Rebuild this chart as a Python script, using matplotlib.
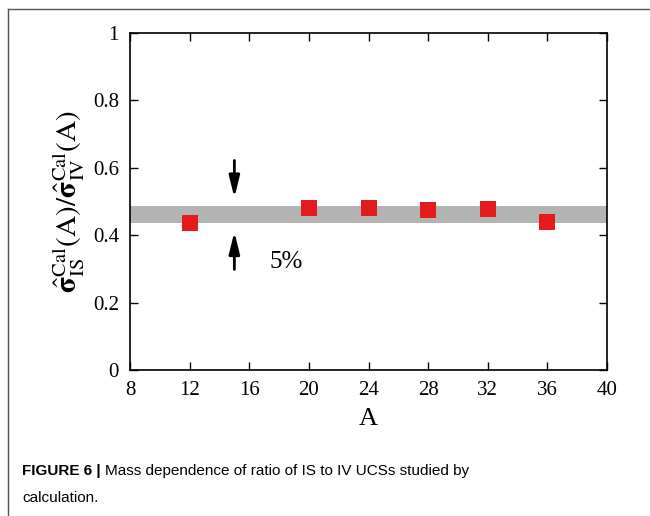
import numpy as np
import matplotlib
matplotlib.use("Agg")
from matplotlib import pyplot as plt
from matplotlib.lines import Line2D

plt.rcParams['font.family'] = ['Liberation Serif', 'DejaVu Serif']
plt.rcParams['mathtext.fontset'] = 'stix'

# mass number and calculated IS/IV ratio
mass = [12, 20, 24, 28, 32, 36]
ratio = [0.435, 0.480, 0.480, 0.474, 0.477, 0.438]
band_lo, band_hi = 0.437, 0.487

fig = plt.figure(figsize=(6.5, 5.16), dpi=100)
ax = fig.add_axes([0.2, 0.283, 0.734, 0.653])

ax.axhspan(band_lo, band_hi, color='#b3b3b3', lw=0, zorder=1)
ax.plot(mass, ratio, 's', color='#e31b1b', ms=12, mew=0, zorder=3)

# arrows marking the band width
head = '-|>,head_length=1.3,head_width=0.32'
ax.annotate('', xy=(15, 0.503), xytext=(15, 0.63),
            arrowprops=dict(arrowstyle=head, color='black', lw=2))
ax.annotate('', xy=(15, 0.418), xytext=(15, 0.29),
            arrowprops=dict(arrowstyle=head, color='black', lw=2))
ax.text(18.5, 0.32, '5%', fontsize=18, ha='center', va='center')

ax.set_xlim(8, 40)
ax.set_ylim(0, 1)
ax.set_xticks(np.arange(8, 41, 4))
ax.set_yticks([0, 0.2, 0.4, 0.6, 0.8, 1])
ax.set_yticklabels(['0', '0.2', '0.4', '0.6', '0.8', '1'])
ax.tick_params(direction='in', top=True, right=True, length=6, width=1, labelsize=15, pad=8)
for s in ax.spines.values():
    s.set_linewidth(1.2)

ax.set_xlabel('A', fontsize=19, labelpad=6)
ax.set_ylabel(r'$\hat{\mathbf{\sigma}}^{\rm Cal}_{\rm IS}\rm(A)/\hat{\mathbf{\sigma}}^{\rm Cal}_{\rm IV}(A)$',
              fontsize=21, labelpad=4)

# outer panel frame
fig.add_artist(Line2D([0.013, 1.0], [0.983, 0.983], color='#555555', lw=1))
fig.add_artist(Line2D([0.013, 0.013], [0.0, 0.983], color='#555555', lw=1))

# caption: bold label followed by plain text
cap_font = dict(fontsize=11, family='Liberation Sans')
t1 = fig.text(0.034, 0.08, 'FIGURE 6 |', fontweight='bold', **cap_font)
fig.canvas.draw()
bb = t1.get_window_extent().transformed(fig.transFigure.inverted())
fig.text(bb.x1 + 0.006, 0.08, 'Mass dependence of ratio of IS to IV UCSs studied by', **cap_font)
fig.text(0.034, 0.027, 'calculation.', **cap_font)

fig.savefig('out.png', dpi=100)
